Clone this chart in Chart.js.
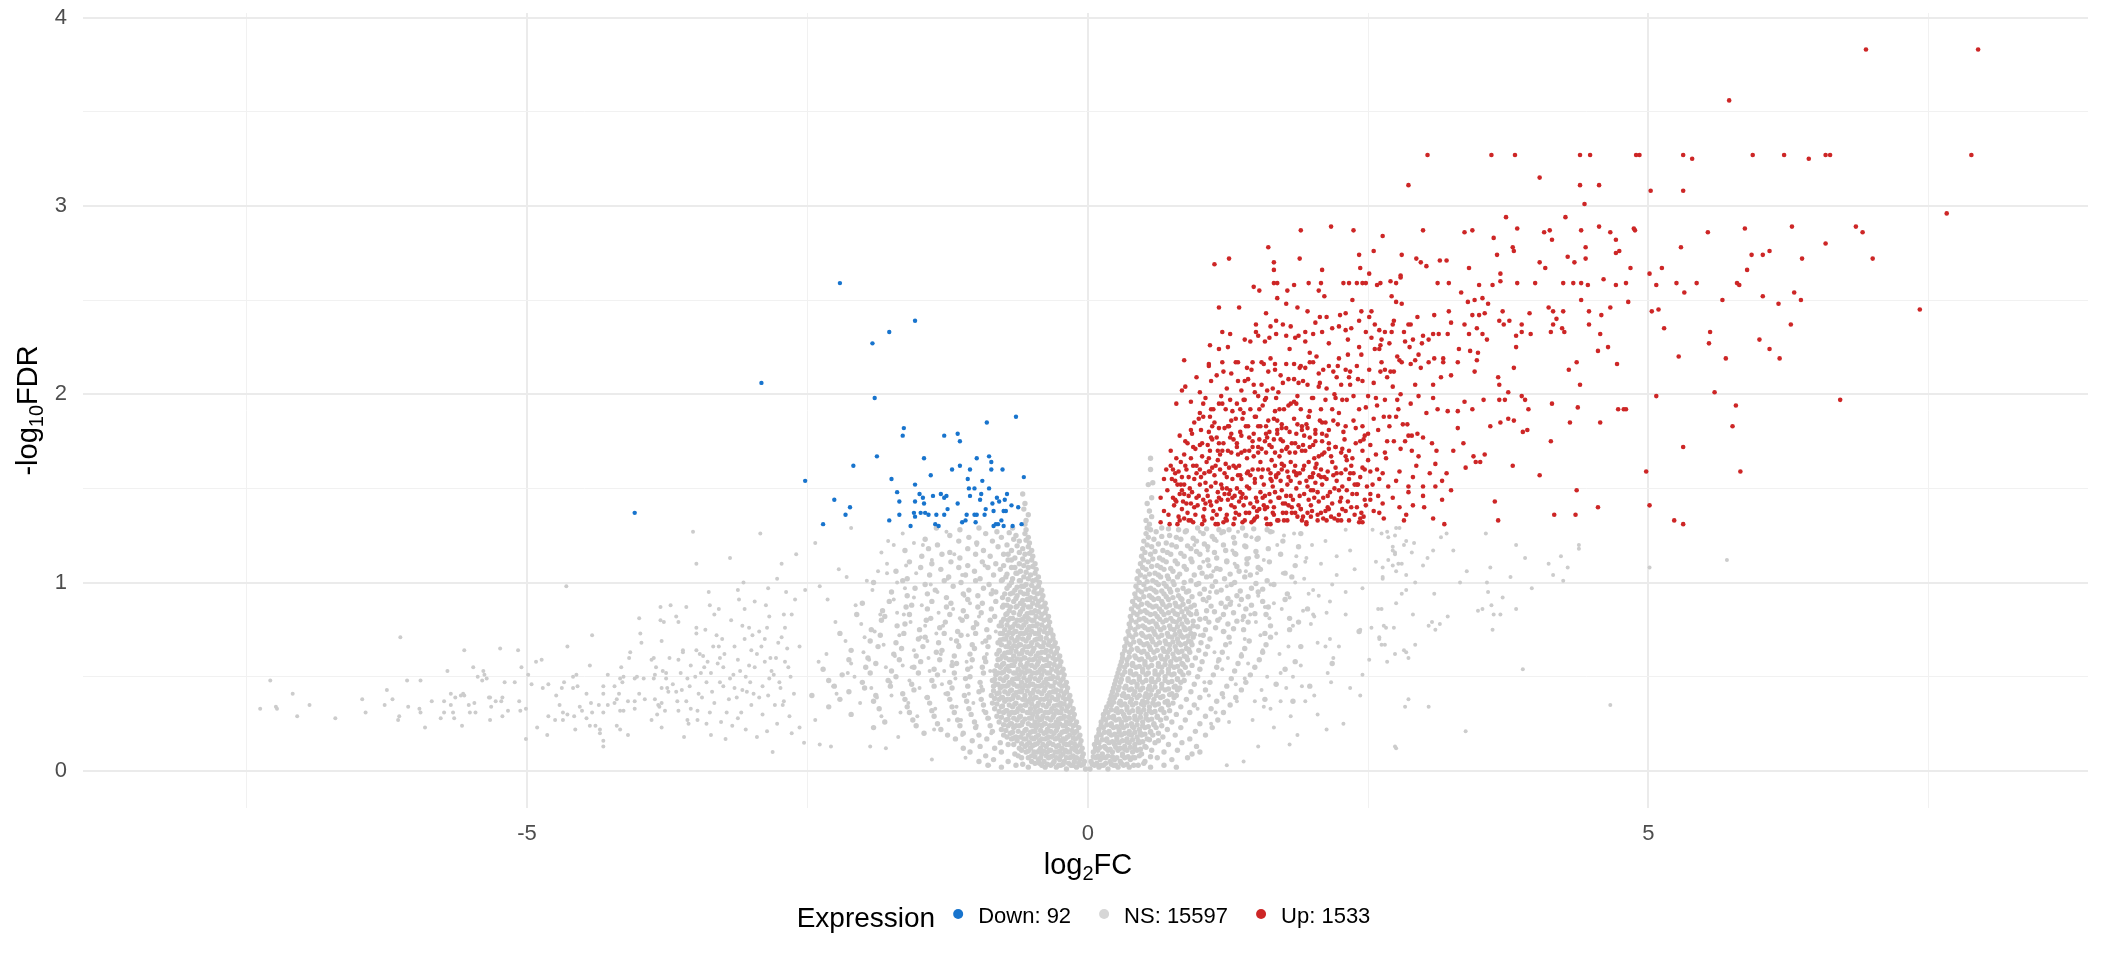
<!DOCTYPE html>
<html>
<head>
<meta charset="UTF-8">
<title>Volcano plot</title>
<script src="https://cdn.jsdelivr.net/npm/chart.js@4.4.1/dist/chart.umd.min.js"></script>
<style>
  html, body { margin: 0; padding: 0; background: #fff; }
  #wrap { position: relative; width: 2112px; height: 960px; }
</style>
</head>
<body>
<div id="wrap"><canvas id="volcano" width="2112" height="960"></canvas></div>
<script>
// ---- data: [log2FC, -log10FDR] ----
var downPoints = [[-2.21,2.59],[-1.54,2.39],[-1.77,2.33],[-1.92,2.27],[-2.91,2.06],[-1.90,1.98],[-0.64,1.88],[-0.90,1.85],[-1.64,1.82],[-1.65,1.78],[-1.28,1.78],[-1.16,1.79],[-1.14,1.75],[-1.88,1.67],[-1.46,1.66],[-0.88,1.67],[-0.99,1.66],[-0.86,1.64],[-2.09,1.62],[-1.14,1.62],[-1.21,1.60],[-1.05,1.60],[-0.86,1.60],[-0.76,1.60],[-1.40,1.57],[-0.57,1.56],[-2.52,1.54],[-1.75,1.55],[-1.07,1.55],[-0.94,1.54],[-1.54,1.52],[-1.06,1.50],[-1.01,1.50],[-0.88,1.50],[-1.70,1.48],[-1.50,1.47],[-1.31,1.47],[-0.95,1.47],[-0.72,1.47],[-1.38,1.46],[-1.26,1.46],[-1.28,1.45],[-1.47,1.45],[-1.05,1.46],[-2.26,1.44],[-1.68,1.43],[-1.54,1.43],[-1.16,1.42],[-0.96,1.44],[-0.81,1.45],[-0.79,1.43],[-0.74,1.44],[-0.85,1.42],[-1.46,1.42],[-0.68,1.41],[-2.12,1.40],[-1.25,1.39],[-0.91,1.39],[-0.62,1.40],[-0.84,1.38],[-0.75,1.38],[-0.73,1.38],[-1.49,1.37],[-1.45,1.37],[-1.55,1.37],[-2.16,1.36],[-1.68,1.36],[-1.42,1.36],[-1.35,1.36],[-1.28,1.36],[-1.08,1.36],[-1.01,1.36],[-0.99,1.36],[-0.92,1.36],[-1.54,1.35],[-0.77,1.33],[-1.77,1.33],[-1.12,1.32],[-1.09,1.33],[-1.00,1.32],[-0.80,1.31],[-0.59,1.31],[-2.36,1.31],[-1.36,1.31],[-1.33,1.30],[-1.58,1.30],[-0.84,1.30],[-0.82,1.31],[-0.75,1.30],[-0.67,1.30],[-4.04,1.37]];

var upFar = [[6.94,3.83],[7.94,3.83],[5.72,3.56],[4.39,3.27],[4.48,3.27],[4.89,3.27],[4.92,3.27],[5.31,3.27],[5.39,3.25],[5.93,3.27],[6.21,3.27],[6.43,3.25],[6.58,3.27],[6.62,3.27],[7.88,3.27],[4.39,3.11],[4.56,3.11],[5.02,3.08],[5.31,3.08],[4.43,3.01],[4.26,2.94],[7.66,2.96],[4.40,2.87],[4.56,2.89],[4.66,2.86],[4.87,2.88],[4.88,2.87],[4.71,2.82],[4.44,2.78],[4.28,2.73],[4.34,2.70],[4.44,2.72],[4.71,2.75],[4.74,2.76],[4.84,2.67],[5.01,2.64],[5.12,2.67],[5.29,2.78],[5.53,2.86],[5.86,2.88],[6.28,2.89],[6.85,2.89],[6.91,2.86],[6.58,2.80],[7.00,2.72],[5.92,2.74],[6.02,2.74],[6.08,2.76],[6.37,2.72],[5.88,2.66],[4.24,2.59],[4.33,2.59],[4.40,2.59],[4.46,2.58],[4.60,2.61],[4.71,2.58],[4.80,2.59],[5.07,2.58],[5.25,2.59],[5.43,2.59],[5.79,2.59],[5.81,2.58],[5.32,2.54],[5.66,2.50],[6.02,2.52],[6.30,2.54],[6.36,2.50],[6.16,2.48],[4.40,2.50],[4.82,2.49],[4.24,2.44],[4.47,2.44],[4.58,2.42],[4.66,2.46],[5.03,2.44],[5.09,2.45],[7.42,2.45],[4.23,2.35],[4.25,2.33],[4.47,2.37],[4.57,2.32],[5.14,2.35],[5.55,2.33],[5.54,2.27],[5.99,2.29],[6.27,2.37],[6.08,2.24],[6.17,2.19],[5.69,2.19],[5.27,2.20],[4.55,2.23],[4.64,2.25],[4.36,2.17],[4.29,2.13],[4.72,2.16],[4.39,2.05],[5.07,1.99],[5.59,2.01],[6.71,1.97],[4.37,1.93],[4.73,1.92],[4.78,1.92],[4.80,1.92],[5.78,1.94],[4.30,1.85],[4.57,1.85],[5.75,1.83],[5.31,1.72],[4.98,1.59],[5.82,1.59],[4.36,1.49],[4.55,1.40],[4.35,1.36],[5.01,1.41],[5.23,1.33],[5.31,1.31]];

var upMid = [[3.03,3.27],[3.60,3.27],[3.81,3.27],[4.03,3.15],[2.86,3.11],[3.73,2.94],[3.83,2.88],[4.07,2.86],[4.12,2.87],[4.14,2.82],[3.36,2.86],[3.43,2.87],[2.99,2.87],[3.62,2.83],[3.79,2.78],[3.80,2.76],[3.65,2.74],[4.03,2.70],[4.08,2.67],[3.68,2.64],[3.68,2.60],[3.83,2.59],[3.99,2.59],[3.40,2.67],[3.49,2.58],[3.61,2.58],[3.33,2.54],[3.39,2.49],[3.45,2.50],[3.52,2.51],[3.57,2.48],[3.43,2.42],[3.49,2.42],[3.54,2.43],[3.70,2.44],[3.67,2.39],[3.71,2.37],[3.76,2.39],[3.87,2.37],[3.94,2.43],[4.11,2.46],[4.15,2.44],[4.18,2.40],[4.15,2.37],[4.13,2.33],[3.87,2.33],[3.95,2.32],[3.82,2.31],[3.82,2.25],[3.80,2.14],[3.66,2.09],[3.67,2.05],[3.75,2.01],[3.87,1.99],[3.90,1.97],[3.93,1.92],[3.67,1.97],[3.72,1.97],[4.14,1.95],[3.75,1.87],[3.80,1.86],[3.68,1.85],[3.59,1.83],[3.92,1.81],[3.88,1.80],[4.13,1.75],[3.79,1.62],[4.03,1.57],[3.63,1.43],[3.66,1.33],[4.16,1.36],
[2.80,2.74],[2.93,2.72],[2.97,2.70],[3.02,2.68],[3.14,2.71],[3.20,2.71],[3.12,2.59],[3.22,2.59],[2.79,2.63],[2.63,2.84],[2.55,2.76],[2.42,2.74],[2.43,2.67],[2.51,2.64],[2.37,2.87],[2.17,2.89],[1.90,2.87],[1.61,2.78],[1.13,2.69],[1.26,2.72],[1.66,2.70],[1.66,2.66],[1.89,2.72],[2.09,2.66],[1.48,2.57],[1.53,2.55],[1.66,2.59],[1.69,2.59],[1.78,2.55],[1.84,2.58],[1.97,2.59],[2.08,2.59],[2.06,2.55],[2.11,2.52],[2.28,2.59],[2.33,2.59],[2.40,2.59],[2.45,2.59],[2.48,2.59],[2.58,2.58],[2.61,2.59],[2.70,2.60],[2.75,2.59],[2.79,2.62],[2.71,2.52],[2.75,2.49],[2.80,2.48],[2.36,2.50],[1.69,2.51],[1.77,2.48],[1.87,2.46],[1.17,2.46],[1.35,2.46],[1.59,2.43],[1.96,2.44],[2.07,2.41],[2.13,2.41],[2.30,2.43],[2.44,2.44],[2.53,2.44],[2.51,2.41],[2.42,2.39],[2.94,2.41],[3.09,2.42],[3.22,2.44],[3.24,2.38],[3.36,2.37],[3.47,2.35],[3.52,2.32],[3.56,2.29],[3.40,2.32],[3.21,2.32],[3.13,2.32],[3.08,2.32],[2.99,2.31],[3.04,2.29],[2.98,2.27],[2.88,2.37],[2.86,2.37],[2.82,2.33],[2.73,2.39],[2.72,2.37],[2.71,2.33],[2.65,2.33],[2.60,2.34],[2.56,2.37],[2.48,2.33],[2.62,2.29],[2.69,2.27],[2.61,2.26],[2.56,2.24],[2.42,2.25],[2.32,2.29],[2.18,2.35],[2.09,2.33],[2.24,2.36],[2.30,2.34],[2.35,2.35],[1.50,2.37],[1.63,2.36],[1.68,2.39],[1.74,2.37],[1.81,2.36],[1.94,2.33],[2.01,2.32],[1.94,2.28],[1.88,2.31],[1.77,2.31],[1.68,2.32],[1.50,2.33],[1.52,2.31],[1.58,2.28],[1.20,2.33],[1.27,2.32],[1.40,2.29],[1.09,2.26],[1.17,2.24],[0.86,2.18],[1.08,2.16],[1.08,2.15],[1.21,2.12],[1.20,2.17],[1.32,2.17],[0.84,2.02],[0.87,2.04],[0.79,1.95],[1.03,1.95]];

var upCore = [[1.34,2.17],[1.42,2.14],[1.47,2.17],[1.55,2.17],[1.57,2.16],[1.67,2.16],[1.67,2.13],[1.77,2.16],[1.84,2.16],[1.90,2.15],[1.94,2.14],[1.98,2.17],[2.01,2.17],[2.10,2.13],[2.15,2.15],[2.19,2.12],[2.23,2.15],[2.30,2.13],[2.34,2.12],[2.40,2.15],[2.51,2.13],[2.61,2.12],[2.65,2.13],[2.67,2.09],[2.70,2.12],[2.73,2.12],[2.78,2.18],[2.76,2.20],[2.80,2.17],[2.88,2.16],[2.92,2.18],[2.95,2.21],[2.87,2.25],[2.83,2.28],[2.90,2.29],[2.97,2.14],[3.04,2.17],[3.09,2.19],[3.17,2.19],[3.17,2.17],[3.30,2.17],[3.31,2.24],[3.41,2.23],[3.45,2.12],[3.48,2.22],[3.47,2.18],[3.15,2.09],[3.24,2.10],[3.08,2.05],[2.55,2.06],[2.45,2.07],[2.33,2.09],[2.26,2.05],[2.07,2.06],[2.06,2.04],[1.92,2.07],[1.84,2.08],[1.74,2.06],[1.60,2.02],[1.49,2.01],[1.40,2.07],[1.34,2.07],[1.48,2.05],
[1.10,1.92],[1.17,1.95],[1.20,1.95],[1.27,1.97],[1.29,1.91],[1.36,1.92],[1.39,1.97],[1.45,1.92],[1.53,1.92],[1.59,1.98],[1.68,1.98],[1.71,1.92],[1.75,1.92],[1.81,1.95],[1.86,1.95],[1.90,1.92],[1.98,1.91],[2.01,1.98],[2.08,1.92],[2.12,1.97],[2.18,1.92],[2.21,1.98],[2.27,1.97],[2.31,1.97],[2.37,1.99],[2.42,1.92],[2.48,1.93],[2.57,1.98],[2.65,1.97],[2.76,1.97],[2.79,2.00],[2.88,1.95],[2.95,1.99],[3.08,1.98],[3.12,1.92],[3.21,1.91],[3.30,1.91],[3.36,1.96],[3.43,1.92],[3.53,1.97],
[0.95,1.85],[0.99,1.87],[1.03,1.88],[1.09,1.88],[1.11,1.83],[1.17,1.82],[1.25,1.83],[1.28,1.79],[1.32,1.87],[1.41,1.83],[1.50,1.88],[1.54,1.83],[1.59,1.79],[1.62,1.80],[1.66,1.87],[1.69,1.79],[1.73,1.82],[1.77,1.82],[1.84,1.87],[1.86,1.79],[1.91,1.83],[1.97,1.88],[1.96,1.82],[2.03,1.79],[2.09,1.85],[2.15,1.81],[2.23,1.84],[2.30,1.83],[2.39,1.82],[2.45,1.83],[2.50,1.79],[2.55,1.87],[2.59,1.81],[2.64,1.88],[2.69,1.88],[2.75,1.88],[2.81,1.84],[2.86,1.78],[2.89,1.78],
[0.89,1.74],[1.02,1.74],[1.11,1.76],[1.16,1.70],[1.21,1.74],[1.28,1.69],[1.33,1.72],[1.40,1.70],[1.47,1.75],[1.52,1.69],[1.58,1.75],[1.64,1.72],[1.67,1.69],[1.74,1.75],[1.78,1.72],[1.85,1.74],[1.91,1.70],[1.98,1.72],[2.03,1.75],[2.09,1.75],[2.15,1.74],[2.21,1.72],[2.27,1.71],[2.33,1.70],[2.43,1.75],[2.46,1.76],[2.52,1.73],[2.67,1.75],[2.65,1.69],[2.73,1.75],[2.79,1.71],[2.83,1.75],[2.89,1.70],[2.95,1.67],[2.99,1.77],[3.07,1.74],[3.11,1.70],[3.26,1.70],[3.35,1.74],[3.44,1.67],[3.54,1.68],[3.46,1.64],[3.50,1.64],[3.37,1.61],
[0.76,1.60],[0.81,1.59],[0.84,1.56],[0.94,1.62],[1.00,1.60],[1.08,1.59],[1.18,1.60],[1.24,1.56],[1.32,1.61],[1.36,1.57],[1.43,1.59],[1.49,1.55],[1.56,1.60],[1.63,1.58],[1.68,1.56],[1.73,1.60],[1.79,1.56],[1.86,1.58],[1.92,1.60],[2.00,1.56],[2.04,1.63],[2.08,1.56],[2.14,1.59],[2.22,1.58],[2.30,1.60],[2.34,1.58],[2.40,1.52],[2.47,1.60],[2.58,1.60],[2.68,1.51],[2.75,1.54],[2.86,1.51],[2.90,1.56],[2.99,1.51],[3.10,1.51],[3.16,1.54],[3.24,1.49],[2.63,1.58],[2.54,1.52],
[0.65,1.45],[0.68,1.55],[0.78,1.54],[0.79,1.43],[0.86,1.47],[0.92,1.42],[0.97,1.45],[1.04,1.39],[1.09,1.43],[1.17,1.45],[1.26,1.47],[1.31,1.40],[1.37,1.45],[1.44,1.37],[1.51,1.43],[1.58,1.39],[1.65,1.37],[1.70,1.45],[1.76,1.42],[1.82,1.37],[1.90,1.39],[1.96,1.37],[2.01,1.49],[2.08,1.37],[2.14,1.40],[2.20,1.34],[2.26,1.45],[2.35,1.40],[2.43,1.34],[2.52,1.47],[2.59,1.46],[2.64,1.34],[2.78,1.40],[2.86,1.48],[2.90,1.41],[2.99,1.46],[3.16,1.44],[3.08,1.34],[3.18,1.31],[2.82,1.33],[2.63,1.42],[2.40,1.40],[0.82,1.33],[0.92,1.33],[1.02,1.31],[1.14,1.31],[1.24,1.33],[1.38,1.32],[1.48,1.33],[1.63,1.31],[1.78,1.33],[1.95,1.32],[2.13,1.33],[2.26,1.33],[2.45,1.32],[0.65,1.32],
[0.72,1.36],[0.76,1.45],[0.80,1.52],[0.84,1.39],[0.88,1.60],[0.90,1.33],[0.93,1.48],[0.96,1.71],[0.98,1.41],[1.01,1.56],[1.03,1.35],[1.06,1.64],[1.07,1.46],[1.10,1.77],[1.12,1.38],[1.14,1.53],[1.16,1.31],[1.18,1.68],[1.19,1.44],[1.22,1.58],[1.24,1.36],[1.26,1.83],[1.27,1.49],[1.30,1.62],[1.31,1.34],[1.33,1.74],[1.35,1.43],[1.37,1.55],[1.39,1.90],[1.41,1.37],[1.42,1.66],[1.44,1.50],[1.46,1.32],[1.48,1.79],[1.50,1.45],[1.52,1.60],[1.53,1.39],[1.55,1.71],[1.57,1.52],[1.59,1.34],[1.61,1.86],[1.62,1.47],[1.64,1.65],[1.66,1.40],[1.68,1.57],[1.70,1.33],[1.72,1.76],[1.73,1.49],[1.75,1.62],[1.77,1.37],[1.79,1.94],[1.81,1.54],[1.83,1.44],[1.85,1.69],[1.87,1.35],[1.89,1.58],[1.91,1.81],[1.93,1.47],[1.95,1.31],[1.97,1.64],[1.99,1.41],[2.01,1.73],[2.03,1.53],[2.05,1.36],[2.08,1.60],[2.10,1.45],[2.12,1.85],[2.15,1.39],[2.17,1.67],[2.20,1.50],[2.23,1.33],[2.26,1.58],[2.29,1.76],[2.32,1.43],[2.35,1.62],[2.38,1.36],[2.41,1.52],[2.45,1.70],[2.48,1.41],[2.52,1.59],
[0.78,1.58],[0.86,1.68],[0.92,1.81],[1.00,1.90],[1.05,1.53],[1.11,1.61],[1.15,1.43],[1.20,1.50],[1.25,1.70],[1.28,1.41],[1.34,1.57],[1.38,1.47],[1.43,1.83],[1.47,1.60],[1.51,1.38],[1.56,1.45],[1.60,1.77],[1.63,1.55],[1.67,1.48],[1.71,1.67],[1.74,1.42],[1.78,1.59],[1.82,1.74],[1.86,1.50],[1.90,1.39],[1.94,1.70],[1.98,1.56],[2.02,1.45],[2.06,1.67],[2.11,1.56],[2.16,1.48],[2.21,1.72],[2.27,1.39],[2.33,1.55],[2.40,1.47],[2.46,1.35],[0.82,1.47],[0.95,1.55],[1.09,1.70],[1.23,1.92],[1.36,1.80],[1.49,1.88],[1.58,1.97],[1.69,1.86],[1.84,1.96],[1.97,1.88],[2.09,1.79],[2.24,1.90],[0.74,1.62],[0.87,1.75],[1.13,1.85],[1.40,1.97],[1.65,2.03],[1.88,2.06],[2.00,1.98],[2.20,2.00]];

var upCore2 = [[0.68,1.38],[0.71,1.49],[0.73,1.31],[0.75,1.55],[0.77,1.41],[0.79,1.66],[0.81,1.35],[0.83,1.52],[0.85,1.43],[0.87,1.62],[0.89,1.37],[0.91,1.50],[0.93,1.79],[0.94,1.32],[0.97,1.58],[0.99,1.46],[1.02,1.67],[1.04,1.33],[1.06,1.49],[1.08,1.80],[1.10,1.41],[1.13,1.57],[1.15,1.36],[1.17,1.74],[1.19,1.52],[1.21,1.32],[1.23,1.63],[1.25,1.44],[1.27,1.77],[1.29,1.55],[1.32,1.37],[1.34,1.68],[1.36,1.48],[1.38,1.87],[1.40,1.33],[1.42,1.58],[1.45,1.42],[1.47,1.72],[1.49,1.53],[1.51,1.35],[1.54,1.64],[1.56,1.94],[1.58,1.46],[1.60,1.31],[1.62,1.73],[1.64,1.54],[1.66,1.36],[1.69,1.81],[1.71,1.45],[1.73,1.63],[1.75,1.33],[1.78,1.52],[1.80,1.69],[1.82,1.40],[1.84,1.59],[1.87,1.84],[1.89,1.46],[1.91,1.33],[1.93,1.62],[1.96,1.51],[1.98,1.77],[2.00,1.38],[2.03,1.61],[2.05,1.48],[2.07,1.86],[2.10,1.34],[2.13,1.55],[2.15,1.71],[2.18,1.42],[2.21,1.61],[2.24,1.36],[2.27,1.51],[2.30,1.67],[2.33,1.33],[2.36,1.47],[2.39,1.74],[2.43,1.56],[2.47,1.44],[2.50,1.65],[2.55,1.38],
[0.70,1.60],[0.74,1.70],[0.78,1.44],[0.82,1.78],[0.86,1.34],[0.90,1.56],[0.95,1.40],[1.00,1.73],[1.05,1.42],[1.09,1.59],[1.12,1.92],[1.16,1.48],[1.20,1.70],[1.24,1.50],[1.28,1.86],[1.31,1.46],[1.35,1.62],[1.39,1.41],[1.44,1.70],[1.48,1.40],[1.52,1.83],[1.55,1.56],[1.59,1.69],[1.63,1.43],[1.67,1.91],[1.70,1.58],[1.74,1.37],[1.77,1.71],[1.81,1.46],[1.85,1.62],[1.88,1.41],[1.92,1.73],[1.95,1.54],[1.99,1.35],[2.02,1.66],[2.06,1.43],[2.09,1.52],[2.13,1.78],[2.17,1.35],[2.22,1.54],[2.26,1.69],[2.31,1.49],[2.37,1.58],[2.42,1.32],[2.49,1.51],[2.57,1.68],
[1.00,2.01],[1.10,2.07],[1.19,1.99],[1.28,2.11],[1.37,2.02],[1.46,2.13],[1.55,2.05],[1.63,2.19],[1.72,2.10],[1.80,2.24],[1.89,2.14],[1.98,2.22],[2.06,2.11],[2.15,2.27],[2.24,2.19],[2.34,2.05],[2.44,2.21],[2.53,2.30],[2.62,2.17],[2.72,2.04],[1.05,1.98],[1.15,2.10],[1.24,2.03],[1.33,1.95],[1.43,2.08],[1.52,1.99],[1.61,2.12],[1.70,2.01],[1.79,2.08],[1.87,1.99],[1.96,2.05],[2.04,2.20],[2.13,2.03],[2.22,2.09],[2.32,2.21],[2.41,2.08],[2.50,1.99],[2.60,2.24],[1.25,2.25],[1.45,2.28],[1.62,2.30],[1.85,2.30],[2.03,2.38],[2.25,2.42],[0.92,1.96],[0.97,2.09],
[2.60,1.55],[2.66,1.66],[2.72,1.45],[2.78,1.59],[2.84,1.36],[2.93,1.62],[3.00,1.40],[3.05,1.58],[2.69,1.83],[2.77,1.92],[2.85,1.84],[2.94,1.79],[3.02,1.90],[2.58,1.94],[2.92,2.05],[3.10,1.63],[3.20,1.58],[3.30,1.82]];

var upCore3 = [[0.80,1.31],[0.84,1.49],[0.88,1.42],[0.92,1.66],[0.96,1.36],[1.00,1.52],[1.03,1.44],[1.07,1.73],[1.11,1.34],[1.14,1.62],[1.18,1.39],[1.22,1.47],[1.26,1.61],[1.30,1.31],[1.33,1.50],[1.37,1.69],[1.41,1.45],[1.45,1.57],[1.49,1.34],[1.53,1.76],[1.57,1.41],[1.61,1.60],[1.65,1.51],[1.69,1.33],[1.73,1.70],[1.77,1.46],[1.81,1.64],[1.85,1.37],[1.89,1.53],[1.93,1.78],[1.97,1.44],[2.01,1.58],[2.05,1.33],[2.09,1.68],[2.14,1.46],[2.19,1.57],[2.25,1.43],[2.31,1.65],[2.38,1.52],[2.45,1.61],
[0.83,1.64],[0.90,1.46],[0.97,1.62],[1.04,1.58],[1.10,1.51],[1.16,1.65],[1.23,1.34],[1.29,1.45],[1.35,1.36],[1.42,1.51],[1.48,1.67],[1.54,1.48],[1.60,1.40],[1.67,1.62],[1.72,1.54],[1.79,1.41],[1.86,1.57],[1.92,1.35],[1.99,1.49],[2.06,1.57],[2.12,1.38],[2.18,1.64],[2.24,1.49],[2.30,1.38],[2.36,1.66],[2.44,1.37],[2.52,1.44],[2.60,1.37],
[0.86,1.52],[0.94,1.72],[1.01,1.81],[1.08,1.66],[1.15,1.77],[1.22,1.82],[1.30,1.76],[1.37,1.78],[1.44,1.77],[1.52,1.72],[1.59,1.83],[1.66,1.76],[1.73,1.84],[1.80,1.80],[1.88,1.72],[1.95,1.84],[2.03,1.81],[2.11,1.69],[2.19,1.86],[2.28,1.80],[2.37,1.86],[2.47,1.78]];

var nsFarLeft = [[-7.38,0.33],[-7.29,0.48],[-7.24,0.34],[-7.23,0.33],[-7.09,0.41],[-7.05,0.29],[-6.94,0.35],[-6.71,0.28],[-6.47,0.38],[-6.44,0.31],[-6.27,0.35],[-6.25,0.43],[-6.20,0.38],[-6.13,0.71],[-6.14,0.29],[-6.15,0.27],[-6.07,0.48],[-6.06,0.34],[-5.96,0.33],[-5.95,0.31],[-5.95,0.48],[-5.91,0.23],[-5.85,0.37],[-5.77,0.28],[-5.74,0.31],[-5.74,0.37],[-5.71,0.53],[-5.68,0.41],[-5.68,0.35],[-5.66,0.31],[-5.65,0.28],[-5.64,0.39],[-5.58,0.24],[-5.59,0.40],[-5.57,0.41],[-5.56,0.64],[-5.56,0.40],[-5.52,0.35],[-5.51,0.31],[-5.48,0.55],[-5.47,0.36],[-5.46,0.31],[-5.44,0.50],[-5.40,0.48],[-5.39,0.53],[-5.38,0.51],[-5.36,0.49],[-5.34,0.39],[-5.33,0.27],[-5.33,0.39],[-5.32,0.34],[-5.28,0.37],[-5.24,0.65],[-5.23,0.37],[-5.22,0.39],[-5.22,0.29],[-5.20,0.47],[-5.17,0.32],[-5.11,0.47],[-5.08,0.64],[-5.07,0.37],[-5.05,0.55],[-5.06,0.32],[-5.01,0.33],[-5.01,0.17],[-4.99,0.51],[-4.96,0.46],[-4.92,0.58],[-4.91,0.23],[-4.87,0.59],[-4.86,0.44],[-4.82,0.19],[-4.81,0.46],[-4.81,0.29],[-4.75,0.27],[-4.74,0.40],[-4.71,0.35],[-4.69,0.44],[-4.68,0.31],[-4.65,0.98],[-4.64,0.66],[-4.68,0.27],[-4.67,0.47],[-4.64,0.30],[-4.59,0.50],[-4.59,0.44],[-4.57,0.22],[-4.58,0.29],[-4.56,0.51],[-4.55,0.45],[-4.53,0.34],[-4.51,0.32],[-4.47,0.41],[-4.47,0.28],[-4.44,0.24],[-4.44,0.56],[-4.42,0.72],[-4.43,0.36],[-4.42,0.31],[-4.39,0.24],[-4.36,0.35],[-4.35,0.22],[-4.35,0.20],[-4.32,0.41],[-4.32,0.45],[-4.32,0.31],[-4.32,0.16],[-4.32,0.13],[-4.28,0.51],[-4.28,0.35],[-4.22,0.45],[-4.22,0.36],[-4.20,0.38],[-4.20,0.24],[-4.18,0.41],[-4.17,0.49],[-4.16,0.55],[-4.17,0.32],[-4.17,0.22],[-4.15,0.47],[-4.14,0.50],[-4.14,0.32],[-4.10,0.37],[-4.10,0.19],[-4.09,0.60],[-4.08,0.63],[-4.04,0.49],[-4.04,0.33],[-4.04,0.37],[-4.02,0.50],[-4.00,0.81],[-4.00,0.41],[-3.99,0.73],[-3.98,0.68],[-3.96,0.49],[-3.95,0.38],[-3.89,0.59],[-3.89,0.27],[-3.87,0.60],[-3.87,0.49],[-3.86,0.38],[-3.86,0.51],[-3.85,0.55],[-3.84,0.30],[-3.83,0.35],[-3.82,0.34],[-3.81,0.87],[-3.81,0.80],[-3.80,0.69],[-3.80,0.23],[-3.80,0.44],[-3.79,0.53],[-3.80,0.36],[-3.78,0.79],[-3.77,0.32],[-3.76,0.49],[-3.76,0.52],[-3.75,0.44],[-3.74,0.42],[-3.72,0.88],[-3.67,0.82],[-3.67,0.42],[-3.66,0.37],[-3.65,0.32],[-3.65,0.79],
[-3.60,0.18],[-3.61,0.63],[-3.61,0.64],[-3.65,0.59],[-3.62,0.43],[-3.58,0.87],[-3.57,0.49],[-3.57,0.27],[-3.56,0.25],[-3.54,0.56],[-3.54,0.33],[-3.52,1.27],[-3.49,1.10],[-3.49,0.76],[-3.49,0.73],[-3.49,0.64],[-3.48,0.32],[-3.48,0.27],[-3.46,0.62],[-3.44,0.39],[-3.43,0.61],[-3.41,0.75],[-3.40,0.25],[-3.38,0.95],[-3.37,0.88],[-3.37,0.31],[-3.36,0.52],[-3.34,0.66],[-3.33,0.83],[-3.29,0.86],[-3.29,0.66],[-3.28,0.60],[-3.27,0.26],[-3.26,0.70],[-3.25,0.55],[-3.23,0.17],[-3.19,1.13],[-3.19,0.49],[-3.17,0.24],[-3.15,0.44],[-3.12,0.96],[-3.11,0.91],[-3.12,0.59],[-3.09,0.31],[-3.08,0.77],[-3.06,0.86],[-3.06,0.70],[-3.05,0.22],[-3.02,0.76],[-3.01,0.47],[-3.00,0.64],[-2.98,0.41],[-2.95,0.18],[-2.92,1.26],[-2.93,0.74],[-2.88,0.70],[-2.87,0.88],[-2.86,0.76],[-2.84,0.82],[-2.83,0.60],[-2.81,0.10],[-2.80,0.51],[-2.73,1.10],[-2.72,0.35],[-2.71,0.83],[-2.70,0.76],[-2.68,0.65],
[-3.55,0.45],[-3.45,0.52],[-3.35,0.42],[-3.30,0.57],[-3.20,0.38],[-3.15,0.66],[-3.05,0.50],[-2.97,0.55],[-2.90,0.45],[-2.85,0.40],[-2.78,0.60],[-2.75,0.47],[-3.40,0.47],[-3.25,0.45],[-3.10,0.53],[-2.95,0.62],[-2.82,0.53],[-3.50,0.50],[-3.00,0.35],[-2.90,0.30],
[-2.62,0.41],[-2.66,0.29],[-2.74,0.44],[-2.79,0.35],[-2.88,0.58],[-2.93,0.39],[-3.02,0.56],[-3.08,0.43],[-3.16,0.51],[-3.22,0.31],[-3.28,0.47],[-3.33,0.36],[-3.42,0.55],[-3.47,0.41],[-3.58,0.37],[-3.63,0.52],[-3.70,0.46],[-3.73,0.60],[-2.65,0.50],[-2.70,0.58],[-2.76,0.68],[-2.84,0.49],[-2.91,0.66],[-2.99,0.72],[-3.04,0.42],[-3.13,0.39],[-3.18,0.80],[-3.24,0.62],[-3.31,0.72],[-3.39,0.58],[-2.61,0.91],[-2.69,0.95],[-2.77,1.02],[-2.85,0.97],[-2.97,0.90],[-3.07,1.00],[-2.64,0.20],[-2.77,0.25],[-2.86,0.21],[-3.12,0.28],[-3.36,0.19],
[-2.60,1.15],[-2.43,1.21],[-2.22,1.07],[-2.39,0.98],[-2.52,0.96],[-2.32,0.91],[-2.64,0.83],[-2.73,0.71],[-2.57,0.66],[-2.67,0.55],[-2.71,0.37],[-2.57,0.23],[-2.43,0.27],[-2.53,0.15],[-2.39,0.14],[-2.29,0.13],[-1.94,0.13],[-1.80,0.12],[-1.69,0.18],[-1.39,0.06],[-1.09,0.07],[-0.88,0.03],[-2.11,1.29],[-1.65,1.26],[-1.84,1.16],[-1.73,1.20],[-1.55,1.21],[-1.79,1.05],[-1.97,1.01]];

var nsLeftWedge = [[-0.02,0.01],[-0.06,0.03],[-0.10,0.02],[-0.15,0.03],[-0.19,0.01],[-0.24,0.03],[-0.28,0.02],[-0.33,0.03],[-0.38,0.02],[-0.43,0.04],[-0.53,0.02],[-0.64,0.03],[-0.77,0.02],[-0.89,0.03],
[-0.03,0.05],[-0.07,0.06],[-0.12,0.05],[-0.16,0.07],[-0.21,0.05],[-0.25,0.06],[-0.30,0.05],[-0.35,0.07],[-0.39,0.05],[-0.44,0.06],[-0.50,0.05],[-0.59,0.07],[-0.71,0.05],[-0.84,0.06],[-0.97,0.05],
[-0.04,0.09],[-0.09,0.10],[-0.13,0.08],[-0.18,0.10],[-0.22,0.09],[-0.27,0.10],[-0.31,0.08],[-0.36,0.10],[-0.41,0.09],[-0.45,0.10],[-0.50,0.08],[-0.55,0.10],[-0.65,0.09],[-0.77,0.10],[-0.91,0.08],[-1.05,0.10],
[-0.05,0.12],[-0.10,0.13],[-0.14,0.12],[-0.19,0.14],[-0.23,0.12],[-0.28,0.13],[-0.33,0.11],[-0.37,0.13],[-0.42,0.12],[-0.47,0.14],[-0.51,0.12],[-0.56,0.13],[-0.61,0.12],[-0.71,0.14],[-0.83,0.12],[-0.96,0.13],[-1.11,0.12],
[-0.06,0.16],[-0.11,0.17],[-0.15,0.15],[-0.20,0.17],[-0.24,0.16],[-0.29,0.17],[-0.34,0.15],[-0.38,0.17],[-0.43,0.16],[-0.48,0.17],[-0.52,0.15],[-0.57,0.17],[-0.63,0.16],[-0.68,0.17],[-0.78,0.15],[-0.90,0.17],[-1.03,0.16],[-1.18,0.17],
[-0.07,0.19],[-0.12,0.20],[-0.16,0.19],[-0.21,0.21],[-0.25,0.19],[-0.30,0.20],[-0.35,0.18],[-0.39,0.20],[-0.44,0.19],[-0.49,0.21],[-0.53,0.19],[-0.58,0.20],[-0.64,0.18],[-0.69,0.20],[-0.75,0.19],[-0.85,0.21],[-0.97,0.19],[-1.11,0.20],[-1.25,0.19],[-1.46,0.20],
[-0.08,0.23],[-0.13,0.24],[-0.18,0.22],[-0.22,0.24],[-0.27,0.23],[-0.31,0.24],[-0.36,0.22],[-0.41,0.24],[-0.46,0.23],[-0.50,0.24],[-0.55,0.22],[-0.61,0.24],[-0.66,0.23],[-0.71,0.24],[-0.77,0.22],[-0.87,0.24],[-1.00,0.23],[-1.14,0.24],[-1.31,0.22],[-1.53,0.24],[-1.91,0.23],
[-0.10,0.26],[-0.15,0.27],[-0.19,0.26],[-0.24,0.28],[-0.28,0.26],[-0.33,0.27],[-0.38,0.25],[-0.43,0.27],[-0.47,0.26],[-0.52,0.28],[-0.58,0.26],[-0.63,0.27],[-0.68,0.25],[-0.73,0.27],[-0.79,0.26],[-0.89,0.28],[-1.01,0.26],[-1.16,0.27],[-1.34,0.25],[-1.56,0.27],[-1.81,0.26],
[-0.12,0.30],[-0.16,0.31],[-0.21,0.29],[-0.26,0.31],[-0.30,0.30],[-0.35,0.31],[-0.40,0.29],[-0.45,0.31],[-0.49,0.30],[-0.54,0.31],[-0.60,0.29],[-0.65,0.31],[-0.70,0.30],[-0.75,0.31],[-0.81,0.29],[-0.91,0.31],[-1.04,0.30],[-1.19,0.31],[-1.37,0.29],[-1.59,0.31],[-2.11,0.30],
[-0.13,0.33],[-0.18,0.34],[-0.23,0.33],[-0.27,0.35],[-0.32,0.33],[-0.37,0.34],[-0.42,0.32],[-0.47,0.34],[-0.51,0.33],[-0.56,0.35],[-0.62,0.33],[-0.67,0.34],[-0.72,0.32],[-0.77,0.34],[-0.83,0.33],[-0.93,0.35],[-1.06,0.33],[-1.21,0.34],[-1.39,0.32],[-1.61,0.34],[-1.86,0.33],[-2.31,0.34],
[-0.15,0.37],[-0.20,0.38],[-0.24,0.36],[-0.29,0.38],[-0.34,0.37],[-0.39,0.38],[-0.44,0.36],[-0.49,0.38],[-0.53,0.37],[-0.58,0.38],[-0.64,0.36],[-0.69,0.38],[-0.74,0.37],[-0.79,0.38],[-0.85,0.36],[-0.95,0.38],[-1.08,0.37],[-1.23,0.38],[-1.41,0.36],[-1.63,0.38],[-1.91,0.37],[-2.21,0.38],
[-0.16,0.40],[-0.21,0.41],[-0.26,0.40],[-0.31,0.42],[-0.36,0.40],[-0.41,0.41],[-0.46,0.39],[-0.51,0.41],[-0.56,0.40],[-0.61,0.42],[-0.66,0.40],[-0.71,0.41],[-0.76,0.39],[-0.81,0.41],[-0.86,0.40],[-0.97,0.42],[-1.10,0.40],[-1.25,0.41],[-1.43,0.39],[-1.65,0.41],[-1.89,0.40],[-2.13,0.42],[-2.46,0.40],
[-0.18,0.44],[-0.23,0.45],[-0.28,0.43],[-0.33,0.45],[-0.38,0.44],[-0.43,0.45],[-0.48,0.43],[-0.53,0.45],[-0.58,0.44],[-0.63,0.45],[-0.68,0.43],[-0.73,0.45],[-0.78,0.44],[-0.84,0.45],[-0.94,0.43],[-1.07,0.45],[-1.21,0.44],[-1.37,0.45],[-1.55,0.43],[-1.76,0.45],[-1.99,0.44],[-2.26,0.45],
[-0.19,0.47],[-0.24,0.48],[-0.29,0.47],[-0.34,0.49],[-0.39,0.47],[-0.44,0.48],[-0.49,0.46],[-0.54,0.48],[-0.59,0.47],[-0.64,0.49],[-0.70,0.47],[-0.75,0.48],[-0.80,0.46],[-0.85,0.48],[-0.96,0.47],[-1.09,0.49],[-1.23,0.47],[-1.39,0.48],[-1.57,0.46],[-1.78,0.48],[-2.01,0.47],[-2.31,0.48],
[-0.21,0.51],[-0.26,0.52],[-0.31,0.50],[-0.36,0.52],[-0.41,0.51],[-0.46,0.52],[-0.51,0.50],[-0.56,0.52],[-0.61,0.51],[-0.66,0.52],[-0.72,0.50],[-0.77,0.52],[-0.82,0.51],[-0.93,0.52],[-1.05,0.50],[-1.19,0.52],[-1.34,0.51],[-1.51,0.52],[-1.71,0.50],[-1.94,0.52],[-2.19,0.51],
[-0.22,0.54],[-0.27,0.55],[-0.32,0.54],[-0.37,0.56],[-0.42,0.54],[-0.47,0.55],[-0.52,0.53],[-0.57,0.55],[-0.62,0.54],[-0.68,0.56],[-0.73,0.54],[-0.78,0.55],[-0.83,0.53],[-0.94,0.55],[-1.07,0.54],[-1.21,0.56],[-1.37,0.54],[-1.55,0.55],[-1.75,0.53],[-1.98,0.55],[-2.36,0.54],
[-0.24,0.58],[-0.29,0.59],[-0.34,0.57],[-0.39,0.59],[-0.44,0.58],[-0.49,0.59],[-0.54,0.57],[-0.60,0.59],[-0.65,0.58],[-0.70,0.59],[-0.75,0.57],[-0.80,0.59],[-0.91,0.58],[-1.03,0.59],[-1.17,0.57],[-1.32,0.59],[-1.49,0.58],[-1.68,0.59],[-1.89,0.57],[-2.13,0.59],
[-0.25,0.61],[-0.30,0.62],[-0.35,0.61],[-0.41,0.63],[-0.46,0.61],[-0.51,0.62],[-0.56,0.60],[-0.61,0.62],[-0.66,0.61],[-0.71,0.63],[-0.76,0.61],[-0.81,0.62],[-0.92,0.60],[-1.05,0.62],[-1.19,0.61],[-1.35,0.63],[-1.53,0.61],[-1.73,0.62],[-1.96,0.60],
[-0.27,0.65],[-0.32,0.66],[-0.37,0.64],[-0.42,0.66],[-0.48,0.65],[-0.53,0.66],[-0.58,0.64],[-0.63,0.66],[-0.68,0.65],[-0.73,0.66],[-0.79,0.64],[-0.89,0.66],[-1.01,0.65],[-1.15,0.66],[-1.30,0.64],[-1.47,0.66],[-1.66,0.65],[-1.87,0.66],[-2.11,0.64],
[-0.29,0.68],[-0.34,0.69],[-0.39,0.68],[-0.45,0.70],[-0.50,0.68],[-0.55,0.69],[-0.60,0.67],[-0.65,0.69],[-0.70,0.68],[-0.75,0.70],[-0.80,0.68],[-0.91,0.69],[-1.03,0.67],[-1.17,0.69],[-1.33,0.68],[-1.51,0.70],[-1.71,0.68],[-1.94,0.69],
[-0.31,0.72],[-0.36,0.73],[-0.42,0.71],[-0.47,0.73],[-0.52,0.72],[-0.57,0.73],[-0.62,0.71],[-0.67,0.73],[-0.72,0.72],[-0.78,0.73],[-0.88,0.71],[-1.00,0.73],[-1.13,0.72],[-1.28,0.73],[-1.45,0.71],[-1.64,0.73],[-1.85,0.72],[-2.21,0.73],
[-0.33,0.75],[-0.38,0.76],[-0.43,0.75],[-0.49,0.77],[-0.54,0.75],[-0.59,0.76],[-0.64,0.74],[-0.69,0.76],[-0.74,0.75],[-0.79,0.77],[-0.90,0.75],[-1.02,0.76],[-1.16,0.74],[-1.32,0.76],[-1.50,0.75],[-1.70,0.77],[-1.93,0.75],
[-0.34,0.79],[-0.39,0.80],[-0.45,0.78],[-0.50,0.80],[-0.55,0.79],[-0.60,0.80],[-0.65,0.78],[-0.71,0.80],[-0.77,0.79],[-0.87,0.80],[-0.99,0.78],[-1.12,0.80],[-1.27,0.79],[-1.44,0.80],[-1.63,0.78],[-1.84,0.80],
[-0.35,0.82],[-0.41,0.83],[-0.46,0.82],[-0.51,0.84],[-0.56,0.82],[-0.61,0.83],[-0.67,0.81],[-0.73,0.83],[-0.83,0.82],[-0.95,0.84],[-1.08,0.82],[-1.23,0.83],[-1.40,0.81],[-1.59,0.83],[-1.81,0.82],[-2.06,0.83],
[-0.37,0.86],[-0.42,0.87],[-0.47,0.85],[-0.53,0.87],[-0.58,0.86],[-0.64,0.87],[-0.70,0.85],[-0.76,0.87],[-0.86,0.86],[-0.98,0.87],[-1.11,0.85],[-1.26,0.87],[-1.43,0.86],[-1.62,0.87],[-1.83,0.85],
[-0.38,0.89],[-0.44,0.90],[-0.49,0.89],[-0.54,0.91],[-0.60,0.89],[-0.66,0.90],[-0.72,0.88],[-0.82,0.90],[-0.94,0.89],[-1.07,0.91],[-1.22,0.89],[-1.39,0.90],[-1.57,0.88],[-1.77,0.90],[-2.01,0.89],
[-0.40,0.93],[-0.45,0.94],[-0.51,0.92],[-0.57,0.94],[-0.63,0.93],[-0.69,0.94],[-0.76,0.92],[-0.86,0.94],[-0.98,0.93],[-1.11,0.94],[-1.26,0.92],[-1.43,0.94],[-1.61,0.93],
[-0.41,0.96],[-0.47,0.97],[-0.53,0.96],[-0.59,0.98],[-0.65,0.96],[-0.72,0.97],[-0.82,0.95],[-0.93,0.97],[-1.06,0.96],[-1.20,0.98],[-1.36,0.96],[-1.54,0.97],[-1.75,0.95],
[-0.43,1.00],[-0.49,1.01],[-0.55,0.99],[-0.61,1.01],[-0.68,1.00],[-0.77,1.01],[-0.88,0.99],[-1.00,1.01],[-1.13,1.00],[-1.28,1.01],[-1.45,0.99],[-1.65,1.01],[-1.91,1.00],
[-0.44,1.03],[-0.51,1.04],[-0.57,1.03],[-0.64,1.05],[-0.73,1.03],[-0.84,1.04],[-0.96,1.02],[-1.09,1.04],[-1.24,1.03],[-1.41,1.04],[-1.61,1.02],
[-0.46,1.07],[-0.53,1.08],[-0.60,1.06],[-0.68,1.08],[-0.78,1.07],[-0.89,1.08],[-1.01,1.06],[-1.15,1.08],[-1.31,1.07],[-1.49,1.08],[-1.71,1.06],
[-0.47,1.10],[-0.54,1.11],[-0.61,1.10],[-0.71,1.12],[-0.82,1.10],[-0.94,1.11],[-1.07,1.09],[-1.22,1.11],[-1.39,1.10],[-1.59,1.11],
[-0.49,1.14],[-0.56,1.15],[-0.65,1.13],[-0.75,1.15],[-0.87,1.14],[-1.00,1.15],[-1.14,1.13],[-1.30,1.15],[-1.48,1.14],
[-0.50,1.17],[-0.58,1.18],[-0.68,1.17],[-0.80,1.19],[-0.93,1.17],[-1.07,1.18],[-1.23,1.16],[-1.42,1.18],[-1.63,1.17],
[-0.52,1.21],[-0.61,1.22],[-0.72,1.20],[-0.85,1.22],[-0.99,1.21],[-1.15,1.22],[-1.34,1.20],
[-0.53,1.24],[-0.64,1.25],[-0.77,1.24],[-0.91,1.26],[-1.06,1.24],[-1.23,1.25],[-1.45,1.23],
[-0.55,1.28],[-0.67,1.29],[-0.81,1.27],[-0.97,1.29],[-1.14,1.28],[-1.35,1.29],
[-0.56,1.31],[-0.55,1.33],[-0.57,1.39],[-0.53,1.36],[-0.58,1.47],[-0.56,1.42]];

var nsLeftDense = [[-0.04,0.035],[-0.08,0.04],[-0.13,0.03],[-0.17,0.04],[-0.22,0.035],[-0.26,0.03],[-0.31,0.04],[-0.36,0.035],[-0.41,0.03],[-0.47,0.04],[-0.58,0.035],
[-0.05,0.075],[-0.10,0.07],[-0.14,0.075],[-0.19,0.07],[-0.24,0.08],[-0.28,0.07],[-0.33,0.075],[-0.37,0.08],[-0.42,0.07],[-0.47,0.075],[-0.53,0.07],[-0.62,0.08],
[-0.06,0.105],[-0.11,0.11],[-0.16,0.10],[-0.20,0.11],[-0.25,0.105],[-0.29,0.10],[-0.34,0.11],[-0.39,0.105],[-0.43,0.11],[-0.48,0.10],[-0.53,0.105],[-0.59,0.11],
[-0.07,0.14],[-0.12,0.145],[-0.17,0.14],[-0.21,0.145],[-0.26,0.135],[-0.31,0.14],[-0.35,0.145],[-0.40,0.14],[-0.45,0.145],[-0.49,0.135],[-0.54,0.14],[-0.59,0.145],[-0.66,0.14],
[-0.08,0.18],[-0.13,0.175],[-0.18,0.18],[-0.22,0.17],[-0.27,0.175],[-0.32,0.18],[-0.36,0.175],[-0.41,0.17],[-0.46,0.18],[-0.50,0.175],[-0.55,0.17],[-0.60,0.18],[-0.66,0.175],[-0.72,0.18],
[-0.10,0.21],[-0.14,0.215],[-0.19,0.21],[-0.23,0.205],[-0.28,0.215],[-0.33,0.21],[-0.37,0.205],[-0.42,0.215],[-0.47,0.21],[-0.51,0.205],[-0.56,0.215],[-0.62,0.21],[-0.67,0.205],[-0.73,0.215],
[-0.11,0.245],[-0.16,0.25],[-0.20,0.24],[-0.25,0.25],[-0.29,0.245],[-0.34,0.24],[-0.39,0.25],[-0.44,0.245],[-0.48,0.24],[-0.53,0.25],[-0.59,0.245],[-0.64,0.24],[-0.69,0.25],[-0.75,0.245],
[-0.13,0.28],[-0.17,0.285],[-0.22,0.28],[-0.26,0.275],[-0.31,0.285],[-0.36,0.28],[-0.41,0.275],[-0.45,0.285],[-0.50,0.28],[-0.56,0.275],[-0.61,0.285],[-0.66,0.28],[-0.71,0.275],[-0.77,0.285],
[-0.14,0.315],[-0.19,0.32],[-0.24,0.31],[-0.28,0.32],[-0.33,0.315],[-0.38,0.31],[-0.43,0.32],[-0.47,0.315],[-0.52,0.31],[-0.58,0.32],[-0.63,0.315],[-0.68,0.31],[-0.73,0.32],[-0.79,0.315],
[-0.16,0.35],[-0.21,0.355],[-0.25,0.35],[-0.30,0.345],[-0.35,0.355],[-0.40,0.35],[-0.45,0.345],[-0.50,0.355],[-0.55,0.35],[-0.60,0.345],[-0.65,0.355],[-0.70,0.35],[-0.76,0.345],[-0.81,0.355],
[-0.17,0.385],[-0.22,0.39],[-0.27,0.38],[-0.32,0.39],[-0.37,0.385],[-0.42,0.38],[-0.47,0.39],[-0.51,0.385],[-0.56,0.38],[-0.62,0.39],[-0.67,0.385],[-0.72,0.38],[-0.77,0.39],[-0.83,0.385],
[-0.19,0.42],[-0.24,0.425],[-0.29,0.42],[-0.34,0.415],[-0.39,0.425],[-0.44,0.42],[-0.49,0.415],[-0.54,0.425],[-0.59,0.42],[-0.64,0.415],[-0.69,0.425],[-0.74,0.42],[-0.79,0.415],[-0.84,0.425],
[-0.20,0.455],[-0.25,0.46],[-0.31,0.45],[-0.36,0.46],[-0.41,0.455],[-0.46,0.45],[-0.51,0.46],[-0.56,0.455],[-0.61,0.45],[-0.66,0.46],[-0.71,0.455],[-0.76,0.45],[-0.82,0.46],
[-0.22,0.49],[-0.27,0.495],[-0.32,0.49],[-0.37,0.485],[-0.42,0.495],[-0.47,0.49],[-0.52,0.485],[-0.57,0.495],[-0.62,0.49],[-0.67,0.485],[-0.73,0.495],[-0.78,0.49],[-0.83,0.485],
[-0.23,0.525],[-0.28,0.53],[-0.34,0.52],[-0.39,0.53],[-0.44,0.525],[-0.49,0.52],[-0.54,0.53],[-0.59,0.525],[-0.64,0.52],[-0.70,0.53],[-0.75,0.525],[-0.80,0.52],
[-0.25,0.56],[-0.30,0.565],[-0.35,0.56],[-0.40,0.555],[-0.45,0.565],[-0.50,0.56],[-0.55,0.555],[-0.60,0.565],[-0.66,0.56],[-0.71,0.555],[-0.76,0.565],[-0.81,0.56],
[-0.26,0.595],[-0.31,0.60],[-0.37,0.59],[-0.42,0.60],[-0.47,0.595],[-0.52,0.59],[-0.57,0.60],[-0.63,0.595],[-0.68,0.59],[-0.73,0.60],[-0.78,0.595],
[-0.28,0.63],[-0.33,0.635],[-0.38,0.63],[-0.44,0.625],[-0.49,0.635],[-0.54,0.63],[-0.59,0.625],[-0.64,0.635],[-0.69,0.63],[-0.74,0.625],[-0.79,0.635],
[-0.30,0.665],[-0.35,0.67],[-0.40,0.66],[-0.45,0.67],[-0.51,0.665],[-0.56,0.66],[-0.61,0.67],[-0.66,0.665],[-0.71,0.66],[-0.77,0.67],
[-0.31,0.70],[-0.37,0.705],[-0.42,0.70],[-0.47,0.695],[-0.53,0.705],[-0.58,0.70],[-0.63,0.695],[-0.68,0.705],[-0.73,0.70],[-0.78,0.695],
[-0.33,0.735],[-0.39,0.74],[-0.44,0.73],[-0.50,0.74],[-0.55,0.735],[-0.60,0.73],[-0.65,0.74],[-0.70,0.735],[-0.76,0.73],
[-0.35,0.77],[-0.41,0.775],[-0.46,0.77],[-0.52,0.765],[-0.57,0.775],[-0.62,0.77],[-0.67,0.765],[-0.72,0.775],[-0.77,0.77],
[-0.36,0.805],[-0.42,0.81],[-0.48,0.80],[-0.53,0.81],[-0.58,0.805],[-0.63,0.80],[-0.69,0.81],[-0.75,0.805],
[-0.38,0.84],[-0.44,0.845],[-0.49,0.84],[-0.54,0.835],[-0.60,0.845],[-0.66,0.84],[-0.72,0.835],
[-0.39,0.875],[-0.45,0.88],[-0.51,0.87],[-0.57,0.88],[-0.63,0.875],[-0.69,0.87],[-0.75,0.88],
[-0.41,0.91],[-0.47,0.915],[-0.52,0.91],[-0.58,0.905],[-0.64,0.915],[-0.71,0.91],
[-0.42,0.945],[-0.48,0.95],[-0.54,0.94],[-0.60,0.95],[-0.67,0.945],[-0.74,0.94],
[-0.44,0.98],[-0.50,0.985],[-0.57,0.98],[-0.63,0.975],[-0.70,0.985],
[-0.46,1.015],[-0.53,1.02],[-0.60,1.01],[-0.67,1.02],[-0.76,1.015],
[-0.47,1.05],[-0.55,1.055],[-0.63,1.05],[-0.72,1.045],
[-0.49,1.085],[-0.57,1.09],[-0.65,1.08],[-0.75,1.09],
[-0.50,1.12],[-0.58,1.125],[-0.68,1.12],
[-0.52,1.155],[-0.61,1.16],[-0.71,1.15],
[-0.53,1.19],[-0.63,1.195],[-0.55,1.225],[-0.66,1.23],[-0.56,1.26],[-0.70,1.265]];

var nsLeftMid = [[-0.88,0.28],[-0.95,0.45],[-1.02,0.36],[-1.08,0.58],[-1.13,0.27],[-1.18,0.49],[-1.22,0.70],[-1.27,0.41],[-1.31,0.62],[-1.36,0.33],[-1.41,0.53],[-1.45,0.77],[-1.50,0.44],[-1.55,0.64],[-1.60,0.36],[-1.65,0.56],[-1.70,0.84],[-1.76,0.47],[-1.82,0.67],[-1.88,0.39],[-1.95,0.59],[-2.02,0.78],[-2.08,0.50],[-2.16,0.69],[-2.24,0.41],[-2.33,0.62],[-0.90,0.62],[-0.97,0.82],[-1.04,0.55],[-1.10,0.93],[-1.15,0.67],[-1.20,0.86],[-1.25,1.02],[-1.29,0.77],[-1.34,0.95],[-1.39,1.12],[-1.43,0.69],[-1.48,0.88],[-1.53,1.05],[-1.58,0.79],[-1.63,0.97],[-1.68,0.72],[-1.73,0.91],[-1.79,1.10],[-1.85,0.83],[-1.92,0.96],[-1.99,0.71],[-2.07,0.88],[-2.15,1.03],[-2.25,0.79],
[-0.86,0.20],[-0.93,0.32],[-0.99,0.24],[-1.06,0.41],[-1.12,0.19],[-1.17,0.34],[-1.24,0.27],[-1.30,0.46],[-1.37,0.22],[-1.44,0.39],[-1.52,0.29],[-1.59,0.48],[-1.67,0.31],[-1.75,0.40],[-1.84,0.29],[-1.93,0.44],[-2.03,0.36],[-2.14,0.52],[-2.27,0.45],[-2.40,0.58],
[-0.85,0.96],[-0.92,1.09],[-0.99,1.20],[-1.05,0.89],[-1.12,1.04],[-1.19,1.15],[-1.26,1.27],[-1.33,0.84],[-1.40,0.99],[-1.47,1.20],[-1.55,0.92],[-1.62,1.09],[-1.70,1.00],[-1.78,1.22],[-1.87,1.06],[-0.82,0.74],[-0.87,0.53],[-0.94,0.68],[-1.00,0.79],[-1.07,0.72],[-1.14,0.81],[-1.21,0.58],[-1.28,0.53],[-1.35,0.73],[-1.42,0.60],[-1.49,0.71],[-1.57,0.55],[-1.64,0.83],[-1.72,0.61],[-1.80,0.55],[-1.90,0.74],[-2.00,0.63],[-2.11,0.57]];

var nsRightWedge = [[0.02,0.01],[0.06,0.03],[0.10,0.02],[0.14,0.03],[0.18,0.01],[0.23,0.03],[0.27,0.02],[0.32,0.03],[0.37,0.02],[0.45,0.03],[0.56,0.02],[0.68,0.03],[0.79,0.02],
[0.03,0.05],[0.07,0.07],[0.11,0.06],[0.16,0.07],[0.20,0.05],[0.24,0.06],[0.29,0.05],[0.33,0.07],[0.38,0.06],[0.42,0.07],[0.51,0.05],[0.62,0.07],[0.75,0.06],[0.89,0.07],
[0.05,0.10],[0.09,0.11],[0.13,0.09],[0.18,0.11],[0.22,0.10],[0.27,0.11],[0.31,0.09],[0.35,0.11],[0.40,0.10],[0.44,0.11],[0.48,0.09],[0.57,0.11],[0.68,0.10],[0.80,0.11],[0.93,0.09],[1.00,0.10],
[0.06,0.14],[0.10,0.15],[0.15,0.13],[0.19,0.15],[0.24,0.14],[0.28,0.15],[0.33,0.13],[0.37,0.15],[0.42,0.14],[0.46,0.15],[0.51,0.13],[0.60,0.15],[0.72,0.14],[0.84,0.15],[0.97,0.13],
[0.08,0.18],[0.12,0.19],[0.17,0.17],[0.21,0.19],[0.26,0.18],[0.30,0.19],[0.35,0.17],[0.39,0.19],[0.44,0.18],[0.48,0.19],[0.53,0.17],[0.58,0.19],[0.67,0.18],[0.78,0.19],[0.91,0.17],[1.05,0.19],
[0.10,0.22],[0.14,0.23],[0.19,0.21],[0.23,0.23],[0.28,0.22],[0.32,0.23],[0.37,0.21],[0.41,0.23],[0.46,0.22],[0.51,0.23],[0.56,0.21],[0.61,0.23],[0.71,0.22],[0.83,0.23],[0.96,0.21],[1.11,0.23],
[0.12,0.26],[0.16,0.27],[0.21,0.25],[0.25,0.27],[0.30,0.26],[0.34,0.27],[0.39,0.25],[0.44,0.27],[0.49,0.26],[0.54,0.27],[0.59,0.25],[0.65,0.27],[0.75,0.26],[0.87,0.27],[1.00,0.25],[1.16,0.27],
[0.14,0.30],[0.18,0.31],[0.23,0.29],[0.27,0.31],[0.32,0.30],[0.37,0.31],[0.42,0.29],[0.47,0.31],[0.52,0.30],[0.57,0.31],[0.62,0.29],[0.68,0.31],[0.79,0.30],[0.91,0.31],[1.05,0.29],[1.21,0.31],
[0.17,0.34],[0.21,0.35],[0.26,0.33],[0.30,0.35],[0.35,0.34],[0.40,0.35],[0.45,0.33],[0.50,0.35],[0.55,0.34],[0.60,0.35],[0.66,0.33],[0.72,0.35],[0.83,0.34],[0.95,0.35],[1.10,0.33],[1.27,0.35],
[0.20,0.38],[0.24,0.39],[0.29,0.37],[0.34,0.39],[0.39,0.38],[0.44,0.39],[0.49,0.37],[0.54,0.39],[0.59,0.38],[0.65,0.39],[0.71,0.37],[0.77,0.39],[0.88,0.38],[1.00,0.39],[1.15,0.37],[1.32,0.39],[1.58,0.38],[1.83,0.37],
[0.22,0.42],[0.27,0.43],[0.32,0.41],[0.37,0.43],[0.42,0.42],[0.47,0.43],[0.52,0.41],[0.57,0.43],[0.63,0.42],[0.69,0.43],[0.75,0.41],[0.80,0.43],[0.92,0.42],[1.05,0.43],[1.20,0.41],[1.37,0.43],
[0.24,0.46],[0.29,0.47],[0.34,0.45],[0.39,0.47],[0.44,0.46],[0.49,0.47],[0.55,0.45],[0.60,0.47],[0.66,0.46],[0.72,0.47],[0.78,0.45],[0.83,0.47],[0.95,0.46],[1.09,0.47],[1.24,0.45],[1.41,0.47],[1.68,0.46],[1.98,0.45],
[0.26,0.50],[0.31,0.51],[0.36,0.49],[0.41,0.51],[0.46,0.50],[0.52,0.51],[0.57,0.49],[0.63,0.51],[0.69,0.50],[0.75,0.51],[0.80,0.49],[0.85,0.51],[0.98,0.50],[1.12,0.51],[1.28,0.49],[1.45,0.51],
[0.28,0.54],[0.33,0.55],[0.38,0.53],[0.43,0.55],[0.49,0.54],[0.54,0.55],[0.60,0.53],[0.66,0.55],[0.72,0.54],[0.77,0.55],[0.82,0.53],[0.87,0.55],[1.00,0.54],[1.15,0.55],[1.31,0.53],[1.49,0.55],[1.76,0.54],
[0.30,0.58],[0.35,0.59],[0.40,0.57],[0.46,0.59],[0.51,0.58],[0.57,0.59],[0.63,0.57],[0.69,0.59],[0.74,0.58],[0.79,0.59],[0.84,0.57],[0.89,0.59],[1.02,0.58],[1.17,0.59],[1.34,0.57],[1.53,0.59],[1.85,0.58],[2.18,0.57],
[0.31,0.62],[0.37,0.63],[0.42,0.61],[0.48,0.63],[0.53,0.62],[0.59,0.63],[0.65,0.61],[0.71,0.63],[0.76,0.62],[0.81,0.63],[0.86,0.61],[0.91,0.63],[1.05,0.62],[1.20,0.63],[1.37,0.61],[1.56,0.63],
[0.33,0.66],[0.38,0.67],[0.44,0.65],[0.50,0.67],[0.55,0.66],[0.61,0.67],[0.67,0.65],[0.73,0.67],[0.78,0.66],[0.83,0.67],[0.88,0.65],[0.93,0.67],[1.07,0.66],[1.23,0.67],[1.40,0.65],[1.59,0.67],[1.90,0.66],
[0.34,0.70],[0.40,0.71],[0.46,0.69],[0.52,0.71],[0.57,0.70],[0.63,0.71],[0.69,0.69],[0.75,0.71],[0.80,0.70],[0.85,0.71],[0.90,0.69],[0.94,0.71],[1.09,0.70],[1.26,0.71],[1.44,0.69],[1.63,0.71],
[0.36,0.74],[0.42,0.75],[0.48,0.73],[0.54,0.75],[0.59,0.74],[0.65,0.75],[0.71,0.73],[0.77,0.75],[0.82,0.74],[0.87,0.75],[0.92,0.73],[1.05,0.75],[1.21,0.74],[1.39,0.75],[1.58,0.73],[1.80,0.75],[2.42,0.74],
[0.37,0.78],[0.43,0.79],[0.49,0.77],[0.55,0.79],[0.61,0.78],[0.67,0.79],[0.73,0.77],[0.79,0.79],[0.84,0.78],[0.89,0.79],[0.94,0.77],[1.08,0.79],[1.25,0.78],[1.43,0.79],[1.63,0.77],[1.88,0.79],
[0.38,0.82],[0.44,0.83],[0.50,0.81],[0.56,0.83],[0.62,0.82],[0.68,0.83],[0.74,0.81],[0.80,0.83],[0.86,0.82],[0.92,0.83],[1.05,0.81],[1.21,0.83],[1.39,0.82],[1.59,0.83],[1.80,0.81],
[0.39,0.86],[0.45,0.87],[0.51,0.85],[0.58,0.87],[0.64,0.86],[0.70,0.87],[0.76,0.85],[0.82,0.87],[0.88,0.86],[0.92,0.87],[1.06,0.85],[1.23,0.87],[1.41,0.86],[1.61,0.87],[1.96,0.86],
[0.40,0.90],[0.46,0.91],[0.53,0.89],[0.59,0.91],[0.66,0.90],[0.72,0.91],[0.78,0.89],[0.84,0.91],[0.90,0.90],[1.03,0.91],[1.19,0.89],[1.37,0.91],[1.56,0.90],[1.76,0.91],
[0.42,0.94],[0.48,0.95],[0.55,0.93],[0.61,0.95],[0.68,0.94],[0.74,0.95],[0.81,0.93],[0.88,0.95],[1.00,0.94],[1.15,0.95],[1.33,0.93],[1.52,0.95],[1.78,0.94],
[0.43,0.98],[0.50,0.99],[0.56,0.97],[0.63,0.99],[0.70,0.98],[0.77,0.99],[0.85,0.97],[0.97,0.99],[1.11,0.98],[1.28,0.99],[1.46,0.97],[1.66,0.99],
[0.44,1.02],[0.51,1.03],[0.58,1.01],[0.65,1.03],[0.72,1.02],[0.80,1.03],[0.92,1.01],[1.06,1.03],[1.22,1.02],[1.40,1.03],[1.60,1.01],[1.82,1.03],
[0.45,1.06],[0.52,1.07],[0.60,1.05],[0.68,1.07],[0.76,1.06],[0.88,1.07],[1.02,1.05],[1.18,1.07],[1.35,1.06],[1.54,1.07],[1.76,1.05],
[0.47,1.10],[0.54,1.11],[0.62,1.09],[0.70,1.11],[0.80,1.10],[0.93,1.11],[1.08,1.09],[1.24,1.11],[1.42,1.10],[1.62,1.11],[1.85,1.09],
[0.48,1.14],[0.56,1.15],[0.64,1.13],[0.74,1.15],[0.86,1.14],[1.00,1.15],[1.15,1.13],[1.32,1.15],[1.51,1.14],[1.72,1.15],
[0.49,1.18],[0.57,1.19],[0.67,1.17],[0.79,1.19],[0.92,1.18],[1.07,1.19],[1.23,1.17],[1.41,1.19],[1.61,1.18],[1.88,1.19],
[0.50,1.22],[0.59,1.23],[0.70,1.21],[0.83,1.23],[0.97,1.22],[1.13,1.23],[1.31,1.21],[1.51,1.23],[1.74,1.22],
[0.52,1.26],[0.61,1.27],[0.73,1.25],[0.87,1.27],[1.03,1.26],[1.21,1.27],[1.41,1.25],[1.63,1.27],[1.90,1.26],
[0.53,1.29],[0.66,1.29],[0.81,1.28],[0.98,1.29],[1.17,1.28],[1.38,1.29],[1.60,1.28],
[0.52,1.33],[0.55,1.38],[0.57,1.45],[0.54,1.52],[0.56,1.60],[0.58,1.53],[0.53,1.42],[0.57,1.35],[0.55,1.31],[0.56,1.66]];

var nsRightDense = [[0.04,0.035],[0.08,0.04],[0.12,0.03],[0.16,0.04],[0.21,0.035],[0.25,0.03],[0.30,0.04],[0.35,0.035],[0.41,0.03],[0.50,0.04],
[0.05,0.075],[0.09,0.08],[0.13,0.07],[0.18,0.08],[0.22,0.075],[0.26,0.07],[0.31,0.08],[0.36,0.075],[0.40,0.07],[0.46,0.08],[0.56,0.075],
[0.07,0.12],[0.11,0.125],[0.16,0.12],[0.20,0.115],[0.25,0.125],[0.29,0.12],[0.33,0.115],[0.38,0.125],[0.42,0.12],[0.47,0.115],[0.52,0.125],
[0.08,0.16],[0.13,0.165],[0.17,0.16],[0.22,0.155],[0.26,0.165],[0.31,0.16],[0.35,0.155],[0.40,0.165],[0.45,0.16],[0.49,0.155],[0.55,0.165],[0.63,0.16],
[0.10,0.20],[0.15,0.205],[0.19,0.20],[0.24,0.195],[0.28,0.205],[0.33,0.20],[0.37,0.195],[0.42,0.205],[0.47,0.20],[0.51,0.195],[0.56,0.205],[0.63,0.20],
[0.12,0.24],[0.17,0.245],[0.21,0.24],[0.26,0.235],[0.30,0.245],[0.35,0.24],[0.40,0.235],[0.44,0.245],[0.49,0.24],[0.54,0.235],[0.59,0.245],[0.66,0.24],
[0.14,0.28],[0.19,0.285],[0.23,0.28],[0.28,0.275],[0.33,0.285],[0.37,0.28],[0.42,0.275],[0.47,0.285],[0.52,0.28],[0.57,0.275],[0.62,0.285],[0.70,0.28],
[0.16,0.32],[0.21,0.325],[0.25,0.32],[0.30,0.315],[0.35,0.325],[0.40,0.32],[0.45,0.315],[0.50,0.325],[0.55,0.32],[0.60,0.315],[0.65,0.325],[0.73,0.32],
[0.19,0.36],[0.23,0.365],[0.28,0.36],[0.33,0.355],[0.38,0.365],[0.43,0.36],[0.48,0.355],[0.53,0.365],[0.58,0.36],[0.63,0.355],[0.69,0.365],[0.76,0.36],
[0.21,0.40],[0.26,0.405],[0.31,0.40],[0.36,0.395],[0.41,0.405],[0.46,0.40],[0.51,0.395],[0.56,0.405],[0.61,0.40],[0.67,0.395],[0.73,0.405],[0.79,0.40],
[0.23,0.44],[0.28,0.445],[0.33,0.44],[0.39,0.435],[0.44,0.445],[0.49,0.44],[0.54,0.435],[0.60,0.445],[0.66,0.44],[0.72,0.435],[0.77,0.445],[0.82,0.44],
[0.25,0.48],[0.30,0.485],[0.36,0.48],[0.41,0.475],[0.46,0.485],[0.52,0.48],[0.57,0.475],[0.63,0.485],[0.69,0.48],[0.75,0.475],[0.80,0.485],[0.86,0.48],
[0.27,0.52],[0.33,0.525],[0.38,0.52],[0.43,0.515],[0.49,0.525],[0.54,0.52],[0.60,0.515],[0.66,0.525],[0.72,0.52],[0.77,0.515],[0.83,0.525],[0.90,0.52],
[0.29,0.56],[0.35,0.565],[0.40,0.56],[0.46,0.555],[0.51,0.565],[0.57,0.56],[0.63,0.555],[0.69,0.565],[0.74,0.56],[0.80,0.555],[0.85,0.565],[0.93,0.56],
[0.31,0.60],[0.37,0.605],[0.43,0.60],[0.48,0.595],[0.54,0.605],[0.60,0.60],[0.66,0.595],[0.71,0.605],[0.77,0.60],[0.82,0.595],[0.88,0.605],[0.96,0.60],
[0.33,0.64],[0.39,0.645],[0.45,0.64],[0.50,0.635],[0.56,0.645],[0.62,0.64],[0.68,0.635],[0.73,0.645],[0.79,0.64],[0.84,0.635],[0.90,0.645],[0.99,0.64],
[0.35,0.68],[0.41,0.685],[0.47,0.68],[0.53,0.675],[0.58,0.685],[0.64,0.68],[0.70,0.675],[0.76,0.685],[0.81,0.68],[0.87,0.675],[0.92,0.685],[1.01,0.68],
[0.37,0.72],[0.43,0.725],[0.49,0.72],[0.55,0.715],[0.60,0.725],[0.66,0.72],[0.72,0.715],[0.78,0.725],[0.83,0.72],[0.89,0.715],[0.95,0.725],[1.03,0.72],
[0.38,0.76],[0.45,0.765],[0.51,0.76],[0.57,0.755],[0.62,0.765],[0.68,0.76],[0.74,0.755],[0.80,0.765],[0.86,0.76],[0.91,0.755],[0.98,0.765],[1.14,0.76],[1.30,0.755],
[0.39,0.80],[0.46,0.805],[0.52,0.80],[0.58,0.795],[0.64,0.805],[0.70,0.80],[0.76,0.795],[0.82,0.805],[0.88,0.80],[0.94,0.795],[1.00,0.805],[1.16,0.80],[1.33,0.795],
[0.41,0.84],[0.47,0.845],[0.53,0.84],[0.60,0.835],[0.66,0.845],[0.72,0.84],[0.78,0.835],[0.84,0.845],[0.90,0.84],[0.97,0.835],[1.13,0.845],[1.30,0.84],[1.49,0.835],
[0.42,0.88],[0.48,0.885],[0.55,0.88],[0.61,0.875],[0.67,0.885],[0.73,0.88],[0.79,0.875],[0.85,0.885],[0.95,0.88],[1.10,0.875],[1.27,0.885],[1.46,0.88],
[0.43,0.92],[0.50,0.925],[0.57,0.92],[0.63,0.915],[0.70,0.925],[0.76,0.92],[0.83,0.915],[0.93,0.925],[1.08,0.92],[1.25,0.915],[1.43,0.925],
[0.45,0.96],[0.52,0.965],[0.59,0.96],[0.66,0.955],[0.73,0.965],[0.80,0.96],[0.90,0.955],[1.04,0.965],[1.19,0.96],[1.36,0.955],[1.56,0.965],
[0.46,1.00],[0.53,1.005],[0.61,1.00],[0.68,0.995],[0.76,1.005],[0.86,1.00],[0.99,0.995],[1.14,1.005],[1.31,1.00],[1.50,0.995],
[0.47,1.04],[0.55,1.045],[0.63,1.04],[0.71,1.035],[0.82,1.045],[0.95,1.04],[1.10,1.035],[1.27,1.045],[1.45,1.04],
[0.49,1.08],[0.57,1.085],[0.65,1.08],[0.74,1.075],[0.86,1.085],[1.00,1.08],[1.15,1.075],[1.33,1.085],[1.52,1.08],
[0.50,1.12],[0.58,1.125],[0.67,1.12],[0.78,1.115],[0.92,1.125],[1.07,1.12],[1.24,1.115],[1.42,1.125],
[0.51,1.16],[0.60,1.165],[0.71,1.16],[0.83,1.155],[0.97,1.165],[1.13,1.16],[1.31,1.155],[1.50,1.165],
[0.53,1.20],[0.63,1.205],[0.75,1.20],[0.89,1.195],[1.04,1.205],[1.21,1.20],[1.40,1.195],
[0.54,1.24],[0.66,1.245],[0.79,1.24],[0.94,1.235],[1.11,1.245],[1.30,1.24],[1.52,1.235],
[0.56,1.28],[0.72,1.285],[0.88,1.275],[1.06,1.285],[1.26,1.28],[1.48,1.285]];

var nsRightMid = [[0.98,0.33],[1.04,0.47],[1.10,0.25],[1.16,0.58],[1.21,0.39],[1.27,0.68],[1.32,0.46],[1.38,0.80],[1.43,0.57],[1.49,0.37],[1.54,0.72],[1.60,0.50],[1.66,0.89],[1.71,0.62],[1.77,0.44],[1.83,0.77],[1.90,0.56],[1.97,0.94],[2.05,0.68],[2.14,0.52],
[1.00,0.72],[1.06,0.90],[1.12,1.06],[1.18,0.81],[1.24,0.98],[1.29,1.17],[1.35,0.88],[1.41,1.06],[1.46,1.24],[1.52,0.93],[1.57,1.12],[1.63,0.99],[1.69,1.20],[1.74,1.05],[1.80,0.92],[1.86,1.14],[1.93,1.02],[2.00,1.20],[2.08,1.10],[2.18,0.99],
[0.96,0.21],[1.02,0.58],[1.08,0.40],[1.14,0.31],[1.20,0.54],[1.26,0.26],[1.33,0.37],[1.40,0.49],[1.47,0.27],[1.55,0.43],[1.63,0.33],[1.72,0.52],[1.81,0.29],[1.91,0.45],[2.02,0.40],
[0.97,0.85],[1.03,1.11],[1.09,0.95],[1.15,1.22],[1.22,0.74],[1.28,0.90],[1.34,1.27],[1.40,0.70],[1.45,0.83],[1.51,1.05],[1.56,0.64],[1.62,0.81],[1.68,0.73],[1.73,0.86],[1.79,0.66],[1.85,1.00],[1.92,0.85],[1.99,0.78],[2.06,0.93],[2.13,0.84],[2.22,1.14],[2.30,0.95],[2.38,1.07],
[0.95,1.20],[1.00,1.27],[1.07,1.17],[1.13,0.63],[1.19,1.26],[1.25,0.60],[1.31,1.10],[1.37,0.62],[1.44,1.13],[1.50,0.79],[1.58,0.87],[1.65,1.27],[1.75,1.25],[1.84,1.26],[1.95,1.13]];

var nsFarRight = [[2.01,0.83],[2.12,0.66],[2.19,0.60],[2.28,0.25],[2.13,0.22],[2.34,0.44],[2.43,0.40],[2.45,0.51],[2.17,0.47],[2.05,0.30],[1.94,0.37],[1.87,0.19],[1.80,0.14],[1.39,0.05],[1.24,0.03],[2.53,0.76],[2.60,0.70],[2.59,0.86],[2.63,1.02],[2.57,1.11],[2.72,1.19],[2.45,0.97],[2.34,1.17],[2.22,1.04],[2.43,0.75],[2.24,0.66],[2.30,0.83],[2.16,0.70],[2.02,0.82],[1.90,0.66],[1.83,0.50],[2.01,0.96],[2.16,0.90],[1.94,1.11],[2.12,1.22],[2.30,1.28],[2.54,1.28],[1.66,0.23],[1.57,0.34],[1.52,0.13],[1.72,0.37],[2.74,0.13],[2.51,0.59],[2.62,0.86],
[2.62,1.26],[2.67,1.27],[2.68,1.24],[2.74,1.25],[2.75,1.29],[2.78,1.29],[2.82,1.20],[2.84,1.22],[2.91,1.21],[2.72,1.17],[2.74,1.16],[2.74,1.15],[2.68,1.12],[2.72,1.09],[2.77,1.10],[2.80,1.10],[2.63,1.08],[2.75,1.06],[2.84,1.04],[2.63,1.03],[2.89,1.16],[2.92,1.00],[2.99,1.09],[3.03,1.13],[3.08,1.17],[3.15,1.24],[3.20,1.26],[3.26,1.17],[3.32,1.00],[3.38,1.06],[3.55,1.26],[3.59,1.08],[3.56,1.00],[3.77,1.03],[3.82,1.20],[3.90,1.13],[4.11,1.10],[4.15,1.04],[4.22,1.14],[4.24,1.01],[4.28,1.08],[4.38,1.20],[4.38,1.18],[3.96,0.97],[5.01,1.08],[5.70,1.12],[2.84,0.96],[2.80,0.94],[3.09,0.94],[2.75,0.89],[2.90,0.83],[2.64,0.77],[2.66,0.76],[2.73,0.76],[3.04,0.77],[3.07,0.79],[3.10,0.75],[3.14,0.78],[3.21,0.82],[3.48,0.85],[3.52,0.86],[3.57,0.95],[3.60,0.88],[3.62,0.83],[3.68,0.83],[3.70,0.92],[3.61,0.75],[3.82,0.86],[2.60,0.71],[2.62,0.67],[2.65,0.67],[2.74,0.62],[2.82,0.64],[2.84,0.63],[2.86,0.60],[2.92,0.67],[2.67,0.58],[3.88,0.54],[2.86,0.38],[2.83,0.34],[3.04,0.34],[3.37,0.21],[2.75,0.12],[4.66,0.35]];

var xTickValues = [-5, 0, 5];
var yTickValues = [0, 1, 2, 3, 4];
var xTitleParts = [['log', false], ['2', true], ['FC', false]];
var yTitleParts = [['-log', false], ['10', true], ['FDR', false]];
var legendTitle = 'Expression';
var legendLabels = ['Down: 92', 'NS: 15597', 'Up: 1533'];

// ---- styles ----
var FONT = "'Liberation Sans', Arial, 'DejaVu Sans', sans-serif";
var colDown = '#1874CD', colUp = '#CD2626', colNS = '#cccccc';
var legendColors = [colDown, '#d6d6d6', colUp];

var nsSparse = nsFarLeft.concat(nsFarRight, nsLeftMid, nsRightMid);
var nsWedges = nsLeftWedge.concat(nsLeftDense, nsRightWedge, nsRightDense);
var upPoints = upFar.concat(upMid, upCore, upCore2, upCore3);

function toXY(arr) {
  return arr.map(function (p) { return { x: p[0], y: p[1] }; });
}

// draws a label whose parts may be subscripts, centred on cx, baseline y
function drawParts(ctx, parts, cx, y, big, small, drop) {
  var widths = parts.map(function (p) {
    ctx.font = (p[1] ? small : big) + 'px ' + FONT;
    return ctx.measureText(p[0]).width;
  });
  var total = widths.reduce(function (a, b) { return a + b; }, 0);
  var x = cx - total / 2;
  parts.forEach(function (p, i) {
    ctx.font = (p[1] ? small : big) + 'px ' + FONT;
    ctx.fillText(p[0], x, p[1] ? y + drop : y);
    x += widths[i];
  });
}

var decorPlugin = {
  id: 'decor',
  afterDraw: function (chart) {
    var ctx = chart.ctx;
    var area = chart.chartArea;
    ctx.save();
    ctx.fillStyle = '#000000';
    ctx.textAlign = 'left';
    ctx.textBaseline = 'alphabetic';

    // axis titles
    drawParts(ctx, xTitleParts, 1088, 874, 29, 20, 6);
    ctx.save();
    ctx.translate(37, (area.top + area.bottom) / 2);
    ctx.rotate(-Math.PI / 2);
    drawParts(ctx, yTitleParts, 0, 0, 29, 20, 6);
    ctx.restore();

    // legend, centred under the panel
    ctx.font = '28px ' + FONT;
    var wTitle = ctx.measureText(legendTitle).width;
    ctx.font = '22px ' + FONT;
    var wLabels = legendLabels.map(function (t) { return ctx.measureText(t).width; });
    var total = wTitle + 23;
    wLabels.forEach(function (w, i) { total += 20 + w + (i < wLabels.length - 1 ? 33 : 0); });
    var x = 1086 - (total + 5) / 2;
    ctx.font = '28px ' + FONT;
    ctx.fillText(legendTitle, x, 927);
    x += wTitle + 23;
    legendLabels.forEach(function (t, i) {
      ctx.beginPath();
      ctx.arc(x, 914, 5, 0, Math.PI * 2);
      ctx.fillStyle = legendColors[i];
      ctx.fill();
      ctx.fillStyle = '#000000';
      ctx.font = '22px ' + FONT;
      ctx.fillText(t, x + 20, 923);
      x += 20 + wLabels[i] + 33;
    });
    ctx.restore();
  }
};

var ctx = document.getElementById('volcano');

var volcanoChart = new Chart(ctx, {
  type: 'scatter',
  data: {
    datasets: [
      { label: 'NS', data: toXY(nsSparse), backgroundColor: colNS, pointRadius: 2.0, order: 4 },
      { label: 'NS core', data: toXY(nsWedges), backgroundColor: colNS, pointRadius: 2.7, order: 3 },
      { label: 'Down', data: toXY(downPoints), backgroundColor: colDown, pointRadius: 2.2, order: 2 },
      { label: 'Up', data: toXY(upPoints), backgroundColor: colUp, pointRadius: 2.3, order: 1 }
    ]
  },
  options: {
    responsive: false,
    devicePixelRatio: 1,
    animation: false,
    events: [],
    layout: { padding: { left: 0, right: 24, top: 13, bottom: 0 } },
    elements: { point: { borderWidth: 0, hoverRadius: 0 } },
    plugins: {
      legend: { display: false },
      tooltip: { enabled: false }
    },
    scales: {
      x: {
        type: 'linear',
        min: -8.96,
        max: 8.92,
        afterFit: function (scale) {
          scale.height = 152;
          scale.paddingLeft = 0;
          scale.paddingRight = 0;
        },
        border: { display: false },
        grid: {
          drawTicks: false,
          color: function (c) { return c.tick && c.tick.value % 5 === 0 ? '#ebebeb' : '#f1f1f1'; },
          lineWidth: function (c) { return c.tick && c.tick.value % 5 === 0 ? 2 : 1; }
        },
        ticks: {
          stepSize: 2.5,
          includeBounds: false,
          autoSkip: false,
          maxRotation: 0,
          padding: 13,
          color: '#4d4d4d',
          font: { family: FONT, size: 22 },
          callback: function (v) { return xTickValues.indexOf(v) >= 0 ? String(v) : ''; }
        }
      },
      y: {
        type: 'linear',
        min: -0.197,
        max: 4.024,
        afterFit: function (scale) {
          scale.width = 83;
          scale.paddingTop = 0;
          scale.paddingBottom = 0;
        },
        border: { display: false },
        grid: {
          drawTicks: false,
          color: function (c) { return c.tick && c.tick.value % 1 === 0 ? '#ebebeb' : '#f1f1f1'; },
          lineWidth: function (c) { return c.tick && c.tick.value % 1 === 0 ? 2 : 1; }
        },
        ticks: {
          stepSize: 0.5,
          includeBounds: false,
          autoSkip: false,
          padding: 16,
          color: '#4d4d4d',
          font: { family: FONT, size: 22 },
          callback: function (v) { return yTickValues.indexOf(v) >= 0 ? String(v) : ''; }
        }
      }
    }
  },
  plugins: [decorPlugin]
});
</script>
</body>
</html>
